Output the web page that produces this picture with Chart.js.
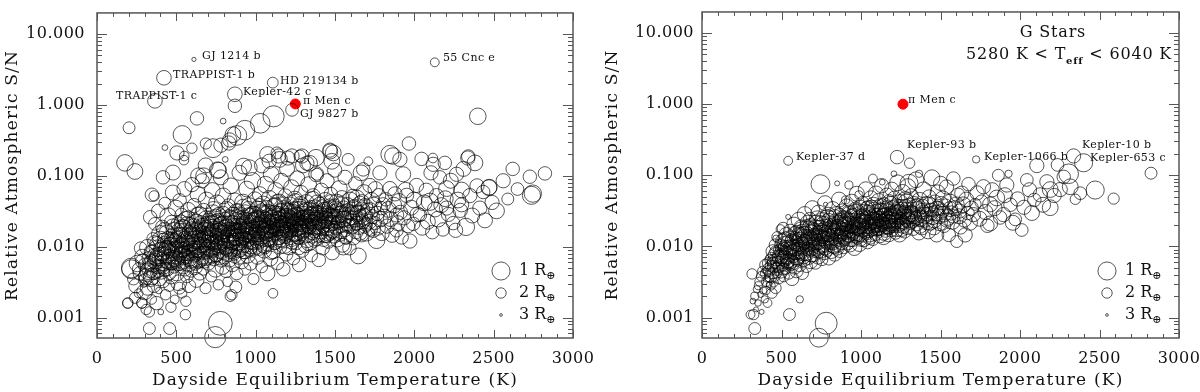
<!DOCTYPE html>
<html>
<head>
<meta charset="utf-8">
<script src="https://cdn.jsdelivr.net/npm/chart.js@4.4.1/dist/chart.umd.min.js"></script>
<style>
  body { margin: 0; background: #fff; width: 1200px; height: 392px; overflow: hidden; display: flex; }
  canvas { display: block; }
</style>
</head>
<body>
<canvas id="left" width="600" height="392"></canvas>
<canvas id="right" width="600" height="392"></canvas>
<script>
// --- DATA: [dayside Teq (K), relative atmospheric S/N, planet radius (R_earth)] ---
const xTicks = [0, 500, 1000, 1500, 2000, 2500, 3000];
const yTicks = [0.001, 0.01, 0.1, 1, 10];
const legendRadii = [1, 2, 3];

// all stars (left panel)
const leftPlanets = [
  // labelled / high S/N planets
  [611, 4.38, 2.8], [422, 2.41, 1.45], [365, 1.14, 1.45], [1108, 2.06, 1.95], [869, 1.41, 1.45],
  [869, 0.97, 1.6], [1229, 0.85, 1.7], [2129, 3.98, 2.2], [2400, 0.69, 1.2],
  // upper outliers
  [176, 0.152, 1.2], [202, 0.475, 1.8], [239, 0.115, 1.3], [346, 0.054, 1.6], [416, 0.095, 1.6],
  [428, 0.25, 2.6], [479, 0.111, 1.4], [504, 0.21, 1.5], [537, 0.38, 1.0], [548, 0.166, 2.1],
  [550, 0.19, 2.1], [598, 0.245, 2.0], [630, 0.645, 1.6], [672, 0.1, 1.3], [686, 0.285, 1.9],
  [731, 0.245, 0.9], [766, 0.12, 1.3], [781, 0.27, 1.5], [795, 0.59, 2.6], [808, 0.17, 2.6],
  [830, 0.29, 1.5], [837, 0.32, 1.5], [857, 0.38, 1.3], [882, 0.37, 0.8], [924, 0.137, 1.3],
  [932, 0.44, 0.8], [1029, 0.55, 0.8], [1113, 0.69, 0.6], [1075, 0.2, 1.3], [1134, 0.21, 1.8],
  [1145, 0.19, 1.5], [1203, 0.178, 1.5], [1229, 0.19, 1.5], [1279, 0.19, 1.8], [1292, 0.19, 1.5],
  [1323, 0.15, 1.5], [1386, 0.105, 1.8], [1468, 0.23, 1.5], [1489, 0.21, 1.3], [2337, 0.178, 1.5],
  [2117, 0.178, 2.1], [2747, 0.056, 1.1], [2470, 0.068, 1.3],
  // lower outliers
  [193, 0.0016, 2.0], [216, 0.005, 0.8], [283, 0.0016, 2.0], [330, 0.0012, 2.0], [330, 0.0007, 1.8],
  [458, 0.0007, 1.8], [557, 0.0011, 2.0], [777, 0.00083, 0.25], [745, 0.00053, 0.6], [840, 0.002, 2.0],
  [1109, 0.0022, 2.1],
  // main cloud, 180-400 K
  [195, 0.0016, 2.0], [215, 0.0048, 0.9], [230, 0.0035, 1.8], [245, 0.0028, 1.5], [262, 0.0022, 2.2],
  [270, 0.0042, 1.6], [283, 0.0016, 2.0], [290, 0.0062, 1.4], [295, 0.003, 2.4], [240, 0.0019, 1.9],
  [255, 0.0058, 1.2], [275, 0.0095, 1.7], [300, 0.0023, 1.3],
  [310, 0.0013, 2.0], [318, 0.0026, 1.5], [322, 0.0045, 1.2], [338, 0.0035, 1.4], [340, 0.0085, 1.6],
  [345, 0.0018, 2.1], [350, 0.0058, 1.1], [352, 0.013, 1.8], [358, 0.0028, 1.6], [362, 0.0072, 1.3],
  [365, 0.021, 1.7], [370, 0.0042, 2.0], [375, 0.0016, 1.6], [380, 0.0095, 1.2], [383, 0.0052, 1.5],
  [386, 0.032, 1.6], [390, 0.0024, 2.5], [395, 0.0068, 1.4], [398, 0.015, 1.1], [335, 0.026, 1.6],
  [360, 0.052, 2.0], [392, 0.0036, 1.3],
  // 400-600 K
  [402, 0.0012, 2.6], [405, 0.0045, 1.3], [410, 0.0085, 1.0], [412, 0.019, 1.6], [418, 0.0032, 1.8],
  [420, 0.006, 1.2], [425, 0.011, 1.5], [428, 0.041, 1.8], [432, 0.0021, 2.0], [436, 0.0075, 1.1],
  [440, 0.0155, 1.3], [444, 0.0048, 1.6], [448, 0.027, 1.2], [452, 0.0095, 1.4], [455, 0.0028, 1.9],
  [460, 0.0063, 1.0], [464, 0.013, 1.7], [468, 0.0038, 1.4], [470, 0.022, 1.5], [474, 0.0082, 1.3],
  [478, 0.058, 1.4], [480, 0.0115, 1.1], [485, 0.0052, 1.7], [488, 0.017, 1.2], [490, 0.0018, 2.2],
  [493, 0.0072, 1.5], [497, 0.035, 1.3], [500, 0.0098, 1.6], [466, 0.0014, 2.0],
  [503, 0.0042, 1.4], [506, 0.0125, 1.2], [510, 0.0068, 1.7], [512, 0.021, 1.5], [515, 0.0031, 1.3],
  [518, 0.0092, 1.1], [521, 0.045, 1.6], [524, 0.0055, 1.9], [527, 0.0145, 1.4], [530, 0.0078, 1.2],
  [533, 0.028, 1.6], [536, 0.0022, 2.1], [539, 0.0105, 1.5], [542, 0.0062, 1.3], [545, 0.018, 1.1],
  [548, 0.0085, 1.8], [551, 0.065, 1.4], [554, 0.0048, 1.6], [557, 0.0118, 1.3], [560, 0.024, 1.2],
  [563, 0.0072, 1.5], [566, 0.0038, 1.7], [569, 0.0135, 1.1], [572, 0.0095, 1.9], [575, 0.033, 1.4],
  [578, 0.0058, 1.2], [581, 0.016, 1.6], [587, 0.0082, 1.3], [590, 0.0205, 1.5], [593, 0.0045, 1.8],
  [596, 0.0112, 1.2], [599, 0.075, 1.5], [560, 0.0017, 2.0], [520, 0.0026, 1.8], [580, 0.0028, 1.6],
  // 600-800 K
  [603, 0.0065, 1.4], [606, 0.0155, 1.2], [609, 0.0098, 1.7], [612, 0.038, 1.5], [615, 0.0052, 1.3],
  [618, 0.0125, 1.1], [621, 0.0235, 1.6], [624, 0.0075, 1.9], [627, 0.0034, 1.4], [630, 0.0172, 1.2],
  [633, 0.0088, 1.6], [636, 0.055, 1.3], [639, 0.0062, 1.5], [642, 0.0112, 1.8], [645, 0.028, 1.2],
  [648, 0.0042, 1.6], [651, 0.0145, 1.4], [654, 0.0092, 1.1], [657, 0.0195, 1.7], [660, 0.0071, 1.3],
  [663, 0.085, 1.5], [666, 0.0125, 1.2], [669, 0.0048, 1.8], [672, 0.032, 1.4], [675, 0.0105, 1.6],
  [678, 0.0165, 1.1], [681, 0.0068, 1.5], [684, 0.0026, 1.9], [687, 0.0135, 1.3], [690, 0.045, 1.2],
  [693, 0.0082, 1.7], [696, 0.021, 1.4], [699, 0.0115, 1.5], [640, 0.1, 1.3], [685, 0.14, 1.4],
  [702, 0.0058, 1.6], [705, 0.0145, 1.3], [708, 0.0095, 1.1], [711, 0.026, 1.7], [714, 0.0072, 1.4],
  [717, 0.0185, 1.2], [720, 0.0038, 1.9], [723, 0.0125, 1.5], [726, 0.062, 1.3], [729, 0.0088, 1.6],
  [732, 0.0155, 1.1], [735, 0.034, 1.4], [738, 0.0065, 1.8], [741, 0.0112, 1.2], [744, 0.0225, 1.5],
  [747, 0.0048, 1.3], [750, 0.0135, 1.7], [753, 0.0078, 1.4], [756, 0.041, 1.2], [759, 0.0172, 1.6],
  [762, 0.0098, 1.3], [765, 0.0029, 2.0], [768, 0.0285, 1.5], [771, 0.0118, 1.1], [774, 0.0068, 1.7],
  [777, 0.0155, 1.3], [780, 0.095, 1.4], [783, 0.0085, 1.5], [786, 0.0205, 1.2], [789, 0.0135, 1.6],
  [792, 0.0052, 1.4], [795, 0.052, 1.3], [798, 0.0108, 1.8], [760, 0.12, 1.2],
  // 800-1000 K
  [802, 0.0165, 1.4], [805, 0.0075, 1.2], [808, 0.0245, 1.6], [811, 0.0122, 1.3], [814, 0.0045, 1.7],
  [817, 0.0185, 1.1], [820, 0.0092, 1.5], [823, 0.0032, 2.1], [826, 0.0145, 1.3], [829, 0.038, 1.6],
  [832, 0.0105, 1.2], [835, 0.0065, 1.5], [838, 0.0215, 1.4], [841, 0.0128, 1.1], [844, 0.072, 1.3],
  [847, 0.0088, 1.7], [850, 0.0175, 1.4], [853, 0.0055, 1.6], [856, 0.0275, 1.2], [859, 0.0115, 1.5],
  [862, 0.0155, 1.3], [865, 0.0078, 1.8], [868, 0.045, 1.4], [871, 0.0135, 1.2], [874, 0.0098, 1.6],
  [877, 0.0235, 1.3], [880, 0.0042, 1.7], [883, 0.0165, 1.5], [886, 0.0118, 1.1], [889, 0.0325, 1.6],
  [892, 0.0072, 1.4], [895, 0.0195, 1.3], [898, 0.11, 1.4], [850, 0.0021, 2.0], [875, 0.0027, 1.8],
  [902, 0.0145, 1.5], [905, 0.0095, 1.2], [908, 0.0255, 1.6], [911, 0.0062, 1.4], [914, 0.0175, 1.3],
  [917, 0.0118, 1.7], [920, 0.042, 1.2], [923, 0.0085, 1.5], [926, 0.0205, 1.3], [929, 0.0135, 1.6],
  [932, 0.0048, 1.8], [935, 0.0305, 1.4], [938, 0.0155, 1.1], [941, 0.0105, 1.5], [944, 0.065, 1.3],
  [947, 0.0225, 1.6], [950, 0.0075, 1.4], [953, 0.0165, 1.2], [956, 0.0125, 1.7], [959, 0.038, 1.3],
  [962, 0.0092, 1.5], [965, 0.0195, 1.2], [968, 0.0058, 1.6], [971, 0.0275, 1.4], [974, 0.0145, 1.3],
  [977, 0.0112, 1.7], [980, 0.085, 1.2], [983, 0.0185, 1.5], [986, 0.0035, 1.9], [989, 0.0235, 1.3],
  [992, 0.0132, 1.6], [995, 0.0465, 1.4], [998, 0.0102, 1.2], [960, 0.13, 1.3],
  // 1000-1200 K
  [1002, 0.0165, 1.5], [1005, 0.0245, 1.3], [1008, 0.0118, 1.6], [1011, 0.0072, 1.4], [1014, 0.0335, 1.2],
  [1017, 0.0155, 1.7], [1020, 0.0205, 1.3], [1023, 0.0095, 1.5], [1026, 0.055, 1.4], [1029, 0.0135, 1.2],
  [1032, 0.0265, 1.6], [1035, 0.0185, 1.3], [1038, 0.0052, 1.8], [1041, 0.0225, 1.4], [1044, 0.0125, 1.5],
  [1047, 0.0395, 1.2], [1050, 0.0155, 1.6], [1053, 0.0088, 1.4], [1056, 0.0285, 1.3], [1059, 0.0195, 1.7],
  [1062, 0.075, 1.2], [1065, 0.0145, 1.5], [1068, 0.0238, 1.3], [1071, 0.0108, 1.6], [1074, 0.0042, 1.4],
  [1077, 0.0315, 1.5], [1080, 0.0175, 1.2], [1083, 0.0128, 1.7], [1086, 0.048, 1.3], [1089, 0.0215, 1.5],
  [1092, 0.0068, 1.4], [1095, 0.0165, 1.6], [1098, 0.105, 1.3], [1040, 0.14, 1.4], [1085, 0.16, 1.5],
  [1102, 0.0255, 1.4], [1105, 0.0145, 1.6], [1108, 0.0195, 1.3], [1111, 0.0085, 1.5], [1114, 0.0365, 1.2],
  [1117, 0.0175, 1.7], [1120, 0.0225, 1.4], [1123, 0.0115, 1.5], [1126, 0.062, 1.3], [1129, 0.0155, 1.6],
  [1132, 0.0285, 1.2], [1135, 0.0205, 1.5], [1138, 0.0058, 1.7], [1141, 0.0245, 1.3], [1144, 0.0135, 1.5],
  [1147, 0.0435, 1.4], [1150, 0.0185, 1.2], [1153, 0.0098, 1.6], [1156, 0.0315, 1.3], [1159, 0.0215, 1.5],
  [1162, 0.085, 1.4], [1165, 0.0165, 1.2], [1168, 0.0268, 1.6], [1171, 0.0125, 1.4], [1174, 0.0048, 1.6],
  [1177, 0.0345, 1.3], [1180, 0.0195, 1.5], [1183, 0.0145, 1.2], [1186, 0.052, 1.5], [1189, 0.0235, 1.4],
  [1192, 0.0078, 1.6], [1195, 0.0175, 1.3], [1198, 0.125, 1.4], [1150, 0.17, 1.3],
  // 1200-1400 K
  [1202, 0.0275, 1.5], [1205, 0.0165, 1.3], [1208, 0.0215, 1.6], [1211, 0.0098, 1.4], [1214, 0.0385, 1.2],
  [1217, 0.0195, 1.7], [1220, 0.0245, 1.4], [1223, 0.0135, 1.5], [1226, 0.068, 1.3], [1229, 0.0175, 1.6],
  [1232, 0.0305, 1.2], [1235, 0.0225, 1.5], [1238, 0.0068, 1.7], [1241, 0.0265, 1.3], [1244, 0.0148, 1.5],
  [1247, 0.0475, 1.4], [1250, 0.0205, 1.2], [1253, 0.0112, 1.6], [1256, 0.0335, 1.3], [1259, 0.0235, 1.5],
  [1262, 0.092, 1.4], [1265, 0.0185, 1.2], [1268, 0.0285, 1.6], [1271, 0.0138, 1.4], [1274, 0.0055, 1.6],
  [1277, 0.0365, 1.3], [1280, 0.0215, 1.5], [1283, 0.0158, 1.2], [1286, 0.058, 1.5], [1289, 0.0255, 1.4],
  [1292, 0.0088, 1.6], [1295, 0.0195, 1.3], [1298, 0.14, 1.4],
  [1302, 0.0295, 1.5], [1306, 0.0178, 1.3], [1310, 0.0235, 1.6], [1314, 0.0105, 1.4], [1318, 0.0415, 1.2],
  [1322, 0.0205, 1.7], [1326, 0.0265, 1.4], [1330, 0.0145, 1.5], [1334, 0.075, 1.3], [1338, 0.0188, 1.6],
  [1342, 0.0325, 1.2], [1346, 0.0245, 1.5], [1350, 0.0075, 1.7], [1354, 0.0285, 1.3], [1358, 0.0158, 1.5],
  [1362, 0.0515, 1.4], [1366, 0.0215, 1.2], [1370, 0.0122, 1.6], [1374, 0.0355, 1.3], [1378, 0.0255, 1.5],
  [1382, 0.105, 1.4], [1386, 0.0198, 1.2], [1390, 0.0305, 1.6], [1394, 0.0148, 1.4], [1398, 0.0065, 1.6],
  [1340, 0.15, 1.3], [1380, 0.18, 1.2],
  // 1400-1600 K
  [1402, 0.0385, 1.3], [1406, 0.0225, 1.5], [1410, 0.0168, 1.2], [1414, 0.0625, 1.5], [1418, 0.0275, 1.4],
  [1422, 0.0095, 1.6], [1426, 0.0205, 1.3], [1430, 0.0335, 1.5], [1434, 0.0145, 1.4], [1438, 0.0445, 1.2],
  [1442, 0.0255, 1.6], [1446, 0.0185, 1.3], [1450, 0.085, 1.5], [1454, 0.0295, 1.4], [1458, 0.0118, 1.6],
  [1462, 0.0235, 1.3], [1466, 0.0375, 1.5], [1470, 0.0165, 1.2], [1474, 0.055, 1.6], [1478, 0.0265, 1.3],
  [1482, 0.0082, 1.5], [1486, 0.0215, 1.4], [1490, 0.0315, 1.6], [1494, 0.0145, 1.3], [1498, 0.12, 1.5],
  [1470, 0.22, 1.4], [1480, 0.16, 1.3],
  [1503, 0.0265, 1.4], [1507, 0.0185, 1.6], [1511, 0.0425, 1.3], [1515, 0.0125, 1.5], [1519, 0.0325, 1.4],
  [1523, 0.0225, 1.6], [1527, 0.066, 1.3], [1531, 0.015, 1.5], [1535, 0.0285, 1.2], [1539, 0.0195, 1.6],
  [1543, 0.0485, 1.4], [1547, 0.0105, 1.5], [1551, 0.0245, 1.3], [1555, 0.0355, 1.6], [1559, 0.0175, 1.4],
  [1563, 0.095, 1.5], [1567, 0.0275, 1.3], [1571, 0.0135, 1.6], [1575, 0.0215, 1.4], [1579, 0.039, 1.5],
  [1583, 0.17, 1.8], [1587, 0.0255, 1.3], [1591, 0.0095, 1.6], [1595, 0.0305, 1.4], [1599, 0.023, 1.5],
  [1552, 0.01, 1.2],
  // 1600-2000 K
  [1604, 0.0295, 1.5], [1608, 0.0195, 1.3], [1612, 0.052, 1.6], [1616, 0.0135, 1.4], [1620, 0.0355, 1.5],
  [1624, 0.0245, 1.3], [1628, 0.078, 1.6], [1632, 0.0165, 1.4], [1636, 0.048, 1.2], [1640, 0.0215, 1.5],
  [1644, 0.0305, 1.4], [1647, 0.0074, 1.3], [1652, 0.0185, 1.6], [1656, 0.0405, 1.4], [1660, 0.0265, 1.5],
  [1664, 0.11, 1.3], [1668, 0.0145, 1.6], [1672, 0.0335, 1.4], [1676, 0.0225, 1.5], [1678, 0.123, 1.6],
  [1682, 0.058, 1.3], [1686, 0.0195, 1.5], [1690, 0.0375, 1.4], [1694, 0.0285, 1.6], [1698, 0.0155, 1.3],
  [1705, 0.0325, 1.5], [1710, 0.16, 2.2], [1715, 0.0225, 1.4], [1720, 0.032, 1.2], [1720, 0.073, 1.5],
  [1725, 0.0175, 1.6], [1730, 0.0455, 1.4], [1735, 0.0265, 1.5], [1741, 0.017, 1.5], [1745, 0.0385, 1.3],
  [1750, 0.0215, 1.6], [1755, 0.065, 1.4], [1762, 0.0123, 1.2], [1765, 0.0295, 1.5], [1770, 0.0185, 1.4],
  [1775, 0.0525, 1.5], [1783, 0.11, 1.5], [1785, 0.0245, 1.3], [1790, 0.035, 1.6], [1795, 0.0155, 1.4],
  [1804, 0.039, 1.5], [1812, 0.0265, 1.4], [1820, 0.0465, 1.6], [1828, 0.0195, 1.5], [1836, 0.0335, 1.3],
  [1846, 0.2, 1.0], [1846, 0.066, 1.5], [1852, 0.0245, 1.4], [1860, 0.0145, 1.5], [1865, 0.19, 1.2],
  [1870, 0.0385, 1.3], [1878, 0.0555, 1.5], [1888, 0.028, 1.5], [1888, 0.017, 1.6], [1895, 0.0215, 1.4],
  [1903, 0.0435, 1.3], [1909, 0.17, 1.5], [1912, 0.0305, 1.5], [1920, 0.0135, 1.6], [1930, 0.105, 1.4],
  [1935, 0.0255, 1.5], [1945, 0.0625, 1.3], [1951, 0.053, 1.5], [1960, 0.0195, 1.6], [1966, 0.285, 1.6],
  [1972, 0.012, 1.5], [1980, 0.0355, 1.4], [1993, 0.021, 1.6], [1998, 0.0455, 1.3],
  // 2000 K and hotter
  [2014, 0.073, 1.5], [2020, 0.0285, 1.4], [2035, 0.028, 1.6], [2046, 0.173, 1.6], [2050, 0.0185, 1.4],
  [2062, 0.0415, 1.3], [2075, 0.0625, 1.5], [2085, 0.0225, 1.4], [2098, 0.043, 1.1], [2105, 0.11, 1.5],
  [2113, 0.016, 1.6], [2119, 0.145, 1.5], [2130, 0.0335, 1.4], [2140, 0.0525, 1.5], [2150, 0.0245, 1.3],
  [2161, 0.095, 1.6], [2170, 0.0385, 1.4], [2180, 0.0175, 1.6], [2192, 0.152, 1.6], [2195, 0.0475, 1.3],
  [2203, 0.066, 1.3], [2203, 0.035, 1.5], [2215, 0.0285, 1.5], [2230, 0.085, 1.4], [2245, 0.0215, 1.6],
  [2260, 0.017, 1.5], [2266, 0.105, 1.5], [2275, 0.0455, 1.3], [2290, 0.0325, 1.5], [2298, 0.063, 1.3],
  [2298, 0.039, 1.5], [2310, 0.125, 1.4], [2325, 0.019, 1.1], [2340, 0.187, 1.6], [2350, 0.0525, 1.5],
  [2365, 0.0275, 1.4], [2382, 0.152, 1.3], [2395, 0.072, 1.5], [2413, 0.035, 1.5], [2434, 0.059, 1.6],
  [2445, 0.0235, 1.4], [2472, 0.069, 1.3], [2490, 0.042, 1.5], [2518, 0.032, 1.3],
  [2560, 0.085, 1.5], [2589, 0.047, 1.8], [2620, 0.125, 1.6], [2650, 0.065, 1.7], [2728, 0.097, 1.6],
  [2738, 0.053, 1.0], [2823, 0.108, 1.6]
];

// the densest part of the left cloud (drawn in the same series)
const leftCore = [
  [305, 0.0055, 1.5], [312, 0.0038, 1.3], [326, 0.0068, 1.6], [334, 0.0048, 1.2], [348, 0.0082, 1.4],
  [356, 0.0042, 1.7], [368, 0.0062, 1.3], [377, 0.011, 1.5], [388, 0.0075, 1.2], [396, 0.0052, 1.6],
  [404, 0.0092, 1.4], [414, 0.0065, 1.3], [422, 0.0125, 1.6], [430, 0.0048, 1.5], [438, 0.0088, 1.2],
  [446, 0.0135, 1.7], [454, 0.0072, 1.4], [462, 0.0105, 1.3], [472, 0.0058, 1.6], [482, 0.0145, 1.4],
  [492, 0.0095, 1.5], [499, 0.0065, 1.2], [508, 0.0115, 1.6], [516, 0.0165, 1.3], [523, 0.0078, 1.5],
  [531, 0.0105, 1.4], [538, 0.0185, 1.2], [546, 0.0068, 1.7], [553, 0.0128, 1.4], [561, 0.0095, 1.5],
  [568, 0.0205, 1.3], [576, 0.0085, 1.6], [583, 0.0138, 1.2], [591, 0.0062, 1.5], [598, 0.0175, 1.4],
  [606, 0.0108, 1.6], [613, 0.0078, 1.3], [621, 0.0148, 1.5], [628, 0.0225, 1.4], [636, 0.0092, 1.2],
  [643, 0.0168, 1.7], [651, 0.0065, 1.4], [658, 0.0125, 1.5], [666, 0.0195, 1.3], [673, 0.0082, 1.6],
  [681, 0.0145, 1.4], [688, 0.0245, 1.2], [696, 0.0098, 1.5], [704, 0.0178, 1.6], [711, 0.0125, 1.3],
  [719, 0.0075, 1.5], [726, 0.0215, 1.4], [734, 0.0142, 1.2], [741, 0.0095, 1.7], [749, 0.0265, 1.4],
  [756, 0.0118, 1.5], [764, 0.0165, 1.3], [771, 0.0085, 1.6], [779, 0.0205, 1.4], [786, 0.0135, 1.2],
  [794, 0.0295, 1.5], [803, 0.0105, 1.6], [810, 0.0185, 1.3], [818, 0.0145, 1.5], [825, 0.0078, 1.4],
  [833, 0.0255, 1.2], [840, 0.0165, 1.7], [848, 0.0115, 1.4], [855, 0.0218, 1.5], [863, 0.0095, 1.3],
  [870, 0.0175, 1.6], [878, 0.0315, 1.4], [885, 0.0135, 1.2], [893, 0.0088, 1.5], [902, 0.0195, 1.6],
  [909, 0.0275, 1.3], [917, 0.0155, 1.5], [924, 0.0105, 1.4], [932, 0.0235, 1.2], [939, 0.0185, 1.7],
  [947, 0.0125, 1.4], [954, 0.0345, 1.5], [962, 0.0165, 1.3], [969, 0.0098, 1.6], [977, 0.0215, 1.4],
  [984, 0.0285, 1.2], [992, 0.0145, 1.5], [1001, 0.0195, 1.6], [1008, 0.0255, 1.3], [1016, 0.0135, 1.5],
  [1023, 0.0375, 1.4], [1031, 0.0175, 1.2], [1038, 0.0225, 1.7], [1046, 0.0105, 1.4], [1053, 0.0305, 1.5],
  [1061, 0.0165, 1.3], [1068, 0.0205, 1.6], [1076, 0.0128, 1.4], [1083, 0.0265, 1.2], [1091, 0.0185, 1.5],
  [1098, 0.0082, 1.6], [1106, 0.0225, 1.4], [1113, 0.0295, 1.3], [1121, 0.0155, 1.5], [1128, 0.0195, 1.6],
  [1136, 0.0415, 1.2], [1143, 0.0245, 1.4], [1151, 0.0135, 1.5], [1158, 0.0185, 1.3], [1166, 0.0325, 1.6],
  [1173, 0.0215, 1.4], [1181, 0.0105, 1.2], [1188, 0.0275, 1.5], [1196, 0.0165, 1.7], [1204, 0.0235, 1.4],
  [1211, 0.0315, 1.3], [1219, 0.0175, 1.5], [1226, 0.0125, 1.6], [1234, 0.0265, 1.2], [1241, 0.0205, 1.4],
  [1249, 0.0445, 1.5], [1256, 0.0155, 1.3], [1264, 0.0245, 1.6], [1271, 0.0098, 1.4], [1279, 0.0335, 1.2],
  [1286, 0.0185, 1.5], [1294, 0.0225, 1.7], [1304, 0.0255, 1.4], [1312, 0.0145, 1.3], [1320, 0.0335, 1.5],
  [1328, 0.0195, 1.6], [1336, 0.0115, 1.2], [1344, 0.0285, 1.4], [1352, 0.0225, 1.5], [1360, 0.0465, 1.3],
  [1368, 0.0165, 1.6], [1376, 0.0305, 1.4], [1384, 0.0135, 1.2], [1392, 0.0245, 1.5], [1404, 0.0295, 1.4],
  [1412, 0.0185, 1.3], [1420, 0.0365, 1.5], [1428, 0.0125, 1.6], [1436, 0.0245, 1.2], [1444, 0.0335, 1.4],
  [1452, 0.0205, 1.5], [1460, 0.0155, 1.3], [1468, 0.0285, 1.6], [1476, 0.0425, 1.4], [1484, 0.0175, 1.2],
  [1492, 0.0255, 1.5], [1505, 0.0345, 1.4], [1515, 0.0215, 1.6], [1525, 0.0285, 1.3], [1535, 0.0165, 1.5],
  [1545, 0.0395, 1.4], [1555, 0.0245, 1.2], [1565, 0.0135, 1.6], [1575, 0.0315, 1.4], [1585, 0.0195, 1.5],
  [1595, 0.0455, 1.3], [1610, 0.0255, 1.5], [1622, 0.0365, 1.4], [1634, 0.0215, 1.6], [1646, 0.0295, 1.3],
  [1658, 0.0155, 1.5], [1670, 0.0425, 1.4], [1682, 0.0265, 1.2], [1694, 0.0205, 1.6]
];

// more of the black core of the left cloud
const leftCore2 = [
  [265, 0.0048, 1.6], [285, 0.0072, 1.4], [302, 0.0034, 1.7], [318, 0.0098, 1.3], [332, 0.0058, 1.5],
  [346, 0.0038, 1.2], [361, 0.0115, 1.6], [373, 0.0068, 1.4], [385, 0.0045, 1.7], [399, 0.0128, 1.3],
  [409, 0.0078, 1.5], [417, 0.0052, 1.4], [427, 0.0168, 1.2], [435, 0.0098, 1.6], [443, 0.0062, 1.5],
  [451, 0.0118, 1.3], [459, 0.0042, 1.7], [467, 0.0088, 1.4], [476, 0.0195, 1.5], [486, 0.0068, 1.3],
  [495, 0.0125, 1.6], [505, 0.0085, 1.4], [513, 0.0058, 1.5], [521, 0.0145, 1.3], [529, 0.0225, 1.6],
  [537, 0.0092, 1.4], [544, 0.0052, 1.5], [552, 0.0165, 1.2], [559, 0.0078, 1.7], [567, 0.0115, 1.4],
  [574, 0.0255, 1.5], [582, 0.0068, 1.3], [589, 0.0105, 1.6], [597, 0.0148, 1.4], [604, 0.0088, 1.5],
  [611, 0.0192, 1.3], [619, 0.0058, 1.6], [626, 0.0118, 1.4], [634, 0.0275, 1.2], [641, 0.0135, 1.5],
  [649, 0.0082, 1.7], [656, 0.0215, 1.4], [664, 0.0105, 1.3], [671, 0.0155, 1.5], [679, 0.0062, 1.6],
  [686, 0.0185, 1.4], [694, 0.0128, 1.2], [703, 0.0235, 1.5], [710, 0.0092, 1.6], [718, 0.0158, 1.3],
  [725, 0.0112, 1.5], [733, 0.0305, 1.4], [740, 0.0175, 1.2], [748, 0.0075, 1.6], [755, 0.0145, 1.5],
  [763, 0.0228, 1.3], [770, 0.0105, 1.4], [778, 0.0178, 1.6], [785, 0.0065, 1.5], [793, 0.0152, 1.3],
  [801, 0.0215, 1.4], [809, 0.0095, 1.6], [816, 0.0335, 1.3], [824, 0.0175, 1.5], [831, 0.0122, 1.4],
  [839, 0.0085, 1.6], [846, 0.0248, 1.2], [854, 0.0145, 1.5], [861, 0.0195, 1.4], [869, 0.0072, 1.7],
  [876, 0.0138, 1.3], [884, 0.0265, 1.5], [891, 0.0165, 1.4], [899, 0.0108, 1.6], [906, 0.0225, 1.3],
  [913, 0.0128, 1.5], [921, 0.0365, 1.4], [928, 0.0175, 1.6], [936, 0.0088, 1.2], [943, 0.0205, 1.5],
  [951, 0.0148, 1.4], [958, 0.0275, 1.3], [966, 0.0115, 1.6], [973, 0.0185, 1.5], [981, 0.0235, 1.4],
  [988, 0.0095, 1.3], [996, 0.0165, 1.6], [1004, 0.0285, 1.4], [1012, 0.0148, 1.5], [1019, 0.0205, 1.3],
  [1027, 0.0118, 1.6], [1034, 0.0315, 1.4], [1042, 0.0185, 1.5], [1049, 0.0245, 1.2], [1057, 0.0098, 1.6],
  [1064, 0.0175, 1.4], [1072, 0.0355, 1.5], [1079, 0.0155, 1.3], [1087, 0.0225, 1.6], [1094, 0.0125, 1.4],
  [1103, 0.0195, 1.5], [1110, 0.0265, 1.3], [1118, 0.0112, 1.6], [1125, 0.0385, 1.4], [1133, 0.0175, 1.5],
  [1140, 0.0215, 1.2], [1148, 0.0295, 1.6], [1155, 0.0125, 1.4], [1163, 0.0245, 1.5], [1170, 0.0185, 1.3],
  [1178, 0.0405, 1.6], [1185, 0.0155, 1.4], [1193, 0.0205, 1.5], [1201, 0.0325, 1.4], [1209, 0.0145, 1.6],
  [1216, 0.0255, 1.3], [1224, 0.0195, 1.5], [1231, 0.0118, 1.4], [1239, 0.0345, 1.6], [1246, 0.0225, 1.3],
  [1254, 0.0175, 1.5], [1261, 0.0285, 1.4], [1269, 0.0135, 1.6], [1276, 0.0205, 1.5], [1284, 0.0395, 1.3],
  [1291, 0.0255, 1.4], [1300, 0.0165, 1.6], [1308, 0.0315, 1.4], [1316, 0.0225, 1.5], [1324, 0.0125, 1.3],
  [1332, 0.0265, 1.6], [1340, 0.0195, 1.4], [1348, 0.0355, 1.5], [1356, 0.0145, 1.3], [1364, 0.0245, 1.6],
  [1372, 0.0185, 1.4], [1380, 0.0285, 1.5], [1388, 0.0415, 1.3], [1396, 0.0215, 1.6], [1408, 0.0255, 1.4],
  [1418, 0.0185, 1.5], [1428, 0.0305, 1.3], [1438, 0.0225, 1.6], [1448, 0.0145, 1.4], [1458, 0.0345, 1.5],
  [1468, 0.0205, 1.3], [1478, 0.0275, 1.6], [1488, 0.0165, 1.4], [1498, 0.0375, 1.5]
];

// G stars (right panel)
const rightPlanets = [
  // labelled / outliers
  [542, 0.16, 2.2], [1227, 0.18, 1.6], [1724, 0.167, 2.4], [745, 0.075, 0.9], [850, 0.077, 2.7],
  [924, 0.073, 2.3], [777, 0.039, 2.8], [542, 0.026, 2.7], [510, 0.018, 1.8], [466, 0.013, 2.5],
  [315, 0.0041, 2.0], [388, 0.0045, 2.8], [332, 0.002, 2.3], [325, 0.0011, 2.0], [332, 0.0007, 1.8],
  [550, 0.0011, 1.8], [781, 0.00083, 0.5], [735, 0.00052, 0.9], [615, 0.0018, 2.4], [487, 0.0093, 2.3],
  [435, 0.0053, 1.8], [672, 0.018, 1.5], [1306, 0.148, 2.0], [1365, 0.105, 2.4], [1207, 0.105, 2.6],
  [1075, 0.09, 2.2], [1134, 0.08, 2.6], [1302, 0.077, 1.0], [1501, 0.077, 1.5], [903, 0.045, 2.3],
  [987, 0.053, 2.3],
  // 300-500 K
  [305, 0.0011, 2.2], [320, 0.0017, 2.6], [340, 0.0013, 2.7], [345, 0.0025, 2.4], [352, 0.0016, 2.5],
  [360, 0.0032, 2.2], [368, 0.0021, 2.6], [375, 0.0012, 2.7], [380, 0.0045, 2.1], [395, 0.0018, 2.4],
  [398, 0.0055, 1.9], [403, 0.0024, 2.3], [408, 0.0035, 2.5], [412, 0.0016, 2.2], [418, 0.0048, 1.8],
  [422, 0.0029, 2.6], [428, 0.0065, 2.0], [432, 0.0038, 1.7], [440, 0.0022, 2.0], [445, 0.0085, 1.6],
  [448, 0.0042, 1.9], [452, 0.0031, 2.2], [456, 0.0062, 1.5], [460, 0.0105, 1.8], [463, 0.0026, 1.9],
  [466, 0.0075, 1.3], [470, 0.0048, 1.7], [474, 0.0135, 1.9], [478, 0.0058, 1.5], [482, 0.0036, 1.8],
  [490, 0.0068, 1.4], [494, 0.0175, 2.2], [497, 0.0044, 1.7],
  // 500-700 K
  [502, 0.0082, 1.5], [506, 0.0055, 1.7], [510, 0.0118, 1.4], [514, 0.0038, 1.9], [518, 0.0068, 1.3],
  [522, 0.0098, 1.6], [526, 0.0048, 2.0], [530, 0.0145, 1.4], [534, 0.0075, 1.2], [538, 0.0058, 1.7],
  [542, 0.0115, 1.5], [546, 0.0042, 1.8], [550, 0.0088, 1.3], [554, 0.0165, 1.6], [558, 0.0062, 1.4],
  [562, 0.0125, 1.8], [566, 0.0035, 1.6], [570, 0.0095, 1.3], [574, 0.0072, 1.7], [578, 0.0205, 1.5],
  [582, 0.0052, 1.4], [586, 0.0135, 1.9], [590, 0.0085, 1.2], [594, 0.0045, 1.6], [598, 0.0155, 1.4],
  [602, 0.0068, 1.5], [606, 0.0105, 1.7], [610, 0.0235, 1.3], [614, 0.0055, 1.6], [618, 0.0125, 1.4],
  [622, 0.0078, 1.8], [626, 0.0172, 1.3], [630, 0.0042, 1.7], [634, 0.0098, 1.5], [638, 0.0145, 1.2],
  [642, 0.0065, 1.6], [646, 0.0285, 1.4], [650, 0.0115, 1.5], [654, 0.0082, 1.3], [658, 0.0052, 1.8],
  [662, 0.0188, 1.4], [666, 0.0128, 1.6], [670, 0.0072, 1.3], [674, 0.0105, 1.5], [678, 0.0245, 1.7],
  [682, 0.0062, 1.4], [686, 0.0155, 1.3], [690, 0.0092, 1.6], [694, 0.0345, 1.4], [698, 0.0118, 1.5],
  // 700-900 K
  [702, 0.0075, 1.6], [706, 0.0165, 1.3], [710, 0.0128, 1.5], [714, 0.0058, 1.8], [718, 0.0215, 1.4],
  [722, 0.0095, 1.2], [726, 0.0145, 1.6], [730, 0.0072, 1.4], [734, 0.0295, 1.3], [738, 0.0112, 1.7],
  [742, 0.0185, 1.5], [746, 0.0088, 1.3], [750, 0.0135, 1.5], [754, 0.0065, 1.8], [758, 0.0235, 1.4],
  [762, 0.0105, 1.6], [766, 0.0155, 1.3], [770, 0.0082, 1.5], [774, 0.0405, 1.4], [778, 0.0125, 1.2],
  [782, 0.0195, 1.7], [786, 0.0092, 1.4], [790, 0.0145, 1.5], [794, 0.0275, 1.3], [798, 0.0068, 1.6],
  [802, 0.0175, 1.4], [806, 0.0112, 1.6], [810, 0.0245, 1.3], [814, 0.0085, 1.5], [818, 0.0148, 1.7],
  [822, 0.0335, 1.4], [826, 0.0105, 1.2], [830, 0.0205, 1.6], [834, 0.0078, 1.5], [838, 0.0158, 1.3],
  [842, 0.0125, 1.7], [846, 0.0285, 1.4], [850, 0.0095, 1.5], [854, 0.0185, 1.3], [858, 0.0135, 1.6],
  [862, 0.0455, 1.4], [866, 0.0088, 1.5], [870, 0.0225, 1.3], [874, 0.0145, 1.7], [878, 0.0115, 1.4],
  [882, 0.0315, 1.5], [886, 0.0165, 1.3], [890, 0.0098, 1.6], [894, 0.0205, 1.4], [898, 0.0128, 1.5],
  // 900-1100 K
  [902, 0.0245, 1.3], [906, 0.0155, 1.6], [910, 0.0365, 1.4], [914, 0.0112, 1.5], [918, 0.0195, 1.3],
  [922, 0.0138, 1.7], [926, 0.0285, 1.4], [930, 0.0105, 1.5], [934, 0.0225, 1.3], [938, 0.0165, 1.6],
  [942, 0.0425, 1.4], [946, 0.0125, 1.5], [950, 0.0265, 1.3], [954, 0.0185, 1.7], [958, 0.0095, 1.4],
  [962, 0.0315, 1.5], [966, 0.0155, 1.3], [970, 0.0215, 1.6], [974, 0.055, 1.4], [978, 0.0135, 1.5],
  [982, 0.0245, 1.3], [986, 0.0175, 1.6], [990, 0.0108, 1.4], [994, 0.0355, 1.5], [998, 0.0195, 1.3],
  [1002, 0.0265, 1.5], [1006, 0.0148, 1.3], [1010, 0.0405, 1.6], [1014, 0.0215, 1.4], [1018, 0.0125, 1.5],
  [1022, 0.0305, 1.3], [1026, 0.0185, 1.7], [1030, 0.0635, 1.4], [1034, 0.0155, 1.5], [1038, 0.0245, 1.3],
  [1042, 0.0115, 1.6], [1046, 0.0345, 1.4], [1050, 0.0205, 1.5], [1054, 0.0138, 1.3], [1058, 0.0285, 1.7],
  [1062, 0.0475, 1.4], [1066, 0.0175, 1.5], [1070, 0.0235, 1.3], [1074, 0.0128, 1.6], [1078, 0.0385, 1.4],
  [1082, 0.0195, 1.5], [1086, 0.0265, 1.3], [1090, 0.0148, 1.7], [1094, 0.0555, 1.4], [1098, 0.0225, 1.5],
  // 1100-1300 K
  [1102, 0.0305, 1.3], [1106, 0.0175, 1.6], [1110, 0.0435, 1.4], [1114, 0.0245, 1.5], [1118, 0.0145, 1.3],
  [1122, 0.0335, 1.7], [1126, 0.0205, 1.4], [1130, 0.0715, 1.5], [1134, 0.0185, 1.3], [1138, 0.0275, 1.6],
  [1142, 0.0135, 1.4], [1146, 0.0385, 1.5], [1150, 0.0225, 1.3], [1154, 0.0165, 1.7], [1158, 0.0315, 1.4],
  [1162, 0.0525, 1.5], [1166, 0.0195, 1.3], [1170, 0.0255, 1.6], [1174, 0.0148, 1.4], [1178, 0.0425, 1.5],
  [1182, 0.0215, 1.3], [1186, 0.0295, 1.7], [1190, 0.0175, 1.4], [1194, 0.0635, 1.5], [1198, 0.0235, 1.3],
  [1202, 0.0345, 1.4], [1206, 0.0195, 1.6], [1210, 0.0475, 1.5], [1214, 0.0265, 1.3], [1218, 0.0155, 1.7],
  [1222, 0.0365, 1.4], [1226, 0.0225, 1.5], [1230, 0.0785, 1.3], [1234, 0.0195, 1.6], [1238, 0.0305, 1.4],
  [1242, 0.0145, 1.5], [1246, 0.0415, 1.3], [1250, 0.0245, 1.7], [1254, 0.0175, 1.4], [1258, 0.0335, 1.5],
  [1262, 0.0575, 1.3], [1266, 0.0215, 1.6], [1270, 0.0285, 1.4], [1274, 0.0165, 1.5], [1278, 0.0455, 1.3],
  [1282, 0.0235, 1.7], [1286, 0.0325, 1.4], [1290, 0.0185, 1.5], [1294, 0.0695, 1.3], [1298, 0.0255, 1.6],
  // 1300-1700 K
  [1304, 0.0375, 1.4], [1310, 0.0215, 1.6], [1316, 0.0515, 1.5], [1322, 0.0285, 1.3], [1328, 0.0175, 1.7],
  [1334, 0.0395, 1.4], [1340, 0.0245, 1.5], [1346, 0.0865, 1.3], [1352, 0.0205, 1.6], [1358, 0.0335, 1.4],
  [1364, 0.0155, 1.5], [1370, 0.0445, 1.3], [1376, 0.0265, 1.7], [1382, 0.0185, 1.4], [1388, 0.0365, 1.5],
  [1394, 0.0625, 1.3], [1404, 0.0235, 1.5], [1410, 0.0395, 1.4], [1416, 0.0285, 1.6], [1422, 0.0165, 1.3],
  [1428, 0.0495, 1.5], [1434, 0.0215, 1.4], [1440, 0.0325, 1.6], [1446, 0.0925, 1.3], [1452, 0.0255, 1.5],
  [1458, 0.0185, 1.4], [1464, 0.0425, 1.6], [1470, 0.0295, 1.3], [1476, 0.0145, 1.5], [1482, 0.0575, 1.4],
  [1488, 0.0345, 1.6], [1494, 0.0215, 1.3], [1508, 0.0315, 1.5], [1515, 0.0465, 1.3], [1522, 0.0195, 1.6],
  [1530, 0.0365, 1.4], [1538, 0.0685, 1.5], [1545, 0.0255, 1.3], [1552, 0.0145, 1.6], [1560, 0.0425, 1.4],
  [1568, 0.0295, 1.5], [1575, 0.0225, 1.3], [1581, 0.09, 1.6], [1590, 0.0345, 1.4], [1602, 0.0117, 1.8],
  [1610, 0.0525, 1.5], [1618, 0.0265, 1.4], [1626, 0.0185, 1.6], [1634, 0.056, 1.5], [1642, 0.0385, 1.3],
  [1650, 0.0235, 1.5], [1655, 0.0145, 1.5], [1662, 0.0455, 1.4], [1670, 0.0295, 1.6], [1676, 0.075, 1.6],
  [1685, 0.0215, 1.4], [1694, 0.0345, 1.5],
  // 1700 K and hotter
  [1707, 0.028, 1.5], [1718, 0.039, 1.8], [1730, 0.0565, 1.5], [1745, 0.0245, 1.4], [1758, 0.0425, 1.6],
  [1770, 0.069, 1.5], [1782, 0.0305, 1.4], [1795, 0.0195, 1.6], [1812, 0.039, 1.4], [1812, 0.021, 1.4],
  [1825, 0.0625, 1.5], [1840, 0.0345, 1.4], [1854, 0.048, 1.3], [1864, 0.1, 1.8], [1875, 0.0255, 1.6],
  [1896, 0.028, 1.5], [1905, 0.0525, 1.4], [1917, 0.073, 1.5], [1928, 0.105, 2.4], [1940, 0.0385, 1.6],
  [1955, 0.0215, 1.4], [1970, 0.024, 1.7], [1985, 0.0465, 1.5], [2011, 0.017, 1.7], [2025, 0.0355, 1.5],
  [2043, 0.086, 1.7], [2060, 0.0625, 1.5], [2075, 0.0295, 1.4], [2090, 0.045, 1.6], [2106, 0.137, 1.5],
  [2127, 0.053, 1.5], [2145, 0.0385, 1.4], [2169, 0.081, 1.5], [2190, 0.063, 1.3], [2190, 0.035, 1.3],
  [2215, 0.052, 1.5], [2236, 0.14, 1.7], [2253, 0.063, 1.5], [2275, 0.095, 1.6], [2306, 0.105, 0.8],
  [2316, 0.069, 1.3], [2337, 0.187, 1.5], [2348, 0.046, 2.0], [2379, 0.056, 1.7], [2400, 0.15, 1.0],
  [2473, 0.062, 1.0], [2589, 0.047, 1.9], [2824, 0.107, 1.8]
];

// the densest part of the G-star band
const rightCore = [
  [355, 0.0028, 2.3], [372, 0.0038, 2.1], [385, 0.0024, 2.4], [400, 0.0042, 2.0], [415, 0.0058, 1.9],
  [425, 0.0036, 2.2], [438, 0.0068, 1.8], [450, 0.0052, 1.7], [462, 0.0085, 1.9], [472, 0.0042, 2.1],
  [484, 0.0072, 1.6], [495, 0.0105, 1.8], [505, 0.0062, 1.5], [515, 0.0092, 1.7], [525, 0.0125, 1.4],
  [535, 0.0068, 1.6], [545, 0.0095, 1.3], [555, 0.0055, 1.8], [565, 0.0115, 1.5], [575, 0.0085, 1.4],
  [585, 0.0155, 1.6], [595, 0.0072, 1.3], [605, 0.0125, 1.5], [615, 0.0092, 1.7], [625, 0.0185, 1.4],
  [635, 0.0078, 1.6], [645, 0.0135, 1.3], [655, 0.0105, 1.5], [665, 0.0215, 1.4], [675, 0.0088, 1.6],
  [685, 0.0125, 1.2], [695, 0.0175, 1.5], [705, 0.0105, 1.4], [715, 0.0145, 1.6], [725, 0.0245, 1.3],
  [735, 0.0098, 1.5], [745, 0.0165, 1.4], [755, 0.0125, 1.7], [765, 0.0205, 1.3], [775, 0.0095, 1.5],
  [785, 0.0155, 1.4], [795, 0.0235, 1.6], [805, 0.0135, 1.3], [815, 0.0185, 1.5], [825, 0.0115, 1.4],
  [835, 0.0265, 1.6], [845, 0.0165, 1.3], [855, 0.0105, 1.5], [865, 0.0215, 1.4], [875, 0.0155, 1.7],
  [885, 0.0245, 1.3], [895, 0.0135, 1.5], [905, 0.0205, 1.4], [915, 0.0165, 1.6], [925, 0.0295, 1.3],
  [935, 0.0125, 1.5], [945, 0.0195, 1.4], [955, 0.0235, 1.6], [965, 0.0145, 1.3], [975, 0.0315, 1.5],
  [985, 0.0185, 1.4], [995, 0.0125, 1.6], [1005, 0.0225, 1.3], [1015, 0.0275, 1.5], [1025, 0.0165, 1.4],
  [1035, 0.0345, 1.6], [1045, 0.0195, 1.3], [1055, 0.0145, 1.5], [1065, 0.0255, 1.4], [1075, 0.0215, 1.6],
  [1085, 0.0325, 1.3], [1095, 0.0175, 1.5], [1105, 0.0245, 1.4], [1115, 0.0195, 1.6], [1125, 0.0365, 1.3],
  [1135, 0.0225, 1.5], [1145, 0.0155, 1.4], [1155, 0.0285, 1.6], [1165, 0.0235, 1.3], [1175, 0.0185, 1.5],
  [1185, 0.0395, 1.4], [1195, 0.0265, 1.6], [1205, 0.0215, 1.3], [1215, 0.0305, 1.5], [1225, 0.0175, 1.4],
  [1235, 0.0255, 1.6], [1245, 0.0355, 1.3], [1255, 0.0225, 1.5], [1265, 0.0195, 1.4], [1275, 0.0305, 1.6],
  [1285, 0.0425, 1.3], [1295, 0.0265, 1.5], [1310, 0.0285, 1.4], [1325, 0.0225, 1.6], [1340, 0.0355, 1.3],
  [1355, 0.0255, 1.5], [1370, 0.0195, 1.4], [1385, 0.0325, 1.6], [1400, 0.0275, 1.3], [1415, 0.0215, 1.5],
  [1430, 0.0385, 1.4], [1445, 0.0295, 1.6], [1460, 0.0235, 1.3], [1475, 0.0345, 1.5], [1490, 0.0265, 1.4],
  [1505, 0.0405, 1.6], [1520, 0.0285, 1.3], [1540, 0.0235, 1.5], [1560, 0.0335, 1.4], [1580, 0.0265, 1.6],
  [1600, 0.0385, 1.3], [1620, 0.0315, 1.5]
];

// more of the dark middle of the G-star band
const rightCore2 = [
  [405, 0.0032, 2.1], [420, 0.0045, 1.9], [433, 0.0028, 2.2], [447, 0.0058, 1.8], [458, 0.0038, 2.0],
  [469, 0.0065, 1.7], [480, 0.0052, 1.9], [491, 0.0088, 1.6], [503, 0.0072, 1.5], [511, 0.0048, 1.8],
  [520, 0.0108, 1.4], [528, 0.0082, 1.6], [537, 0.0062, 1.5], [546, 0.0128, 1.3], [553, 0.0075, 1.7],
  [562, 0.0098, 1.4], [571, 0.0058, 1.6], [579, 0.0118, 1.5], [588, 0.0095, 1.3], [597, 0.0065, 1.6],
  [604, 0.0142, 1.4], [612, 0.0085, 1.5], [621, 0.0108, 1.3], [629, 0.0165, 1.6], [637, 0.0072, 1.4],
  [646, 0.0118, 1.5], [654, 0.0148, 1.3], [663, 0.0092, 1.6], [671, 0.0135, 1.4], [680, 0.0195, 1.5],
  [688, 0.0078, 1.3], [697, 0.0108, 1.6], [704, 0.0135, 1.4], [713, 0.0188, 1.5], [721, 0.0115, 1.3],
  [730, 0.0085, 1.6], [738, 0.0155, 1.4], [747, 0.0215, 1.5], [755, 0.0105, 1.3], [764, 0.0135, 1.6],
  [772, 0.0175, 1.4], [781, 0.0115, 1.5], [789, 0.0255, 1.3], [798, 0.0145, 1.6], [806, 0.0195, 1.4],
  [815, 0.0128, 1.5], [823, 0.0165, 1.3], [832, 0.0098, 1.6], [840, 0.0225, 1.4], [849, 0.0145, 1.5],
  [857, 0.0185, 1.3], [866, 0.0275, 1.6], [874, 0.0125, 1.4], [883, 0.0175, 1.5], [891, 0.0215, 1.3],
  [903, 0.0175, 1.6], [912, 0.0235, 1.4], [921, 0.0145, 1.5], [930, 0.0205, 1.3], [939, 0.0265, 1.6],
  [948, 0.0158, 1.4], [957, 0.0195, 1.5], [966, 0.0325, 1.3], [975, 0.0175, 1.6], [984, 0.0225, 1.4],
  [993, 0.0148, 1.5], [1003, 0.0195, 1.3], [1012, 0.0255, 1.6], [1021, 0.0175, 1.4], [1030, 0.0225, 1.5],
  [1039, 0.0295, 1.3], [1048, 0.0165, 1.6], [1057, 0.0215, 1.4], [1066, 0.0355, 1.5], [1075, 0.0185, 1.3],
  [1084, 0.0245, 1.6], [1093, 0.0205, 1.4], [1103, 0.0275, 1.5], [1112, 0.0185, 1.3], [1121, 0.0235, 1.6],
  [1130, 0.0315, 1.4], [1139, 0.0205, 1.5], [1148, 0.0265, 1.3], [1157, 0.0185, 1.6], [1166, 0.0345, 1.4],
  [1175, 0.0225, 1.5], [1184, 0.0265, 1.3], [1193, 0.0195, 1.6], [1205, 0.0285, 1.4], [1220, 0.0235, 1.5],
  [1235, 0.0325, 1.3], [1250, 0.0205, 1.6], [1265, 0.0265, 1.4], [1280, 0.0365, 1.5], [1295, 0.0235, 1.3],
  [1315, 0.0305, 1.6], [1335, 0.0265, 1.4], [1355, 0.0375, 1.5], [1375, 0.0245, 1.3], [1395, 0.0305, 1.6]
];

// pi Men c, drawn as the filled red dot
const piMenLeft = [1250, 1.03];
const piMenRight = [1264, 1.0];

// label texts, anchored at [T, S/N] of their left edge
const leftLabels = [
  ['GJ 1214 b', 662, 4.8], ['TRAPPIST-1 b', 479, 2.65], ['TRAPPIST-1 c', 120, 1.33],
  ['HD 219134 b', 1153, 2.19], ['Kepler-42 c', 920, 1.5], ['\u03c0 Men c', 1298, 1.13],
  ['GJ 9827 b', 1279, 0.73], ['55 Cnc e', 2180, 4.52]
];
const rightLabels = [
  ['Kepler-37 d', 591, 0.178], ['\u03c0 Men c', 1296, 1.13], ['Kepler-93 b', 1289, 0.267],
  ['Kepler-1066 b', 1774, 0.178], ['Kepler-10 b', 2390, 0.267], ['Kepler-653 c', 2441, 0.172]
];

// --- HELPERS ---
const SERIF = '"DejaVu Serif", serif';
const circleColor = 'rgba(0,0,0,0.66)';

// bigger circle = smaller planet, as in the key (1, 2, 3 R_earth)
function radiusPx(rEarth) {
  return Math.max(1, 12.9 - 3.85 * rEarth);
}

function toPoints(list) {
  return list.map(([t, sn, r]) => ({ x: t, y: sn, rad: r }));
}

function textWithSpacing(ctx, spacing) {
  if ('letterSpacing' in ctx) ctx.letterSpacing = spacing;
}

// frame, inward ticks, tick labels, titles, key and planet names
const framePlugin = {
  id: 'frame',
  afterDraw(chart, args, opts) {
    const { ctx, chartArea: a, scales: { x, y } } = chart;
    ctx.save();

    // ticks
    ctx.strokeStyle = '#555';
    ctx.lineWidth = 1;
    ctx.beginPath();
    for (let t = 0; t <= 3000; t += 100) {
      const px = Math.round(x.getPixelForValue(t)) + 0.5;
      const len = t % 500 === 0 ? 8 : 4;
      ctx.moveTo(px, a.bottom); ctx.lineTo(px, a.bottom - len);
      ctx.moveTo(px, a.top); ctx.lineTo(px, a.top + len);
    }
    for (let d = -4; d <= 1; d++) {
      for (let m = 1; m <= 9; m++) {
        const v = m * Math.pow(10, d);
        if (v < y.min || v > y.max) continue;
        const py = Math.round(y.getPixelForValue(v)) + 0.5;
        const len = m === 1 ? 10 : 5;
        ctx.moveTo(a.left, py); ctx.lineTo(a.left + len, py);
        ctx.moveTo(a.right, py); ctx.lineTo(a.right - len, py);
      }
    }
    ctx.stroke();

    ctx.lineWidth = 1.5;
    ctx.strokeRect(a.left, a.top, a.right - a.left, a.bottom - a.top);

    // tick labels
    ctx.fillStyle = '#111';
    ctx.font = '16px ' + SERIF;
    textWithSpacing(ctx, '0.5px');
    ctx.textAlign = 'center';
    ctx.textBaseline = 'middle';
    xTicks.forEach(t => ctx.fillText(String(t), x.getPixelForValue(t), a.bottom + 21));
    ctx.textAlign = 'right';
    yTicks.forEach(v => ctx.fillText(v.toFixed(3), a.left - opts.yLabelGap, y.getPixelForValue(v)));

    // axis titles
    ctx.font = '17px ' + SERIF;
    textWithSpacing(ctx, '1.2px');
    ctx.textAlign = 'center';
    ctx.fillText('Dayside Equilibrium Temperature (K)', (a.left + a.right) / 2, a.bottom + 43);
    ctx.save();
    ctx.translate(opts.yTitleX, (a.top + a.bottom) / 2);
    ctx.rotate(-Math.PI / 2);
    ctx.fillText('Relative Atmospheric S/N', 0, 0);
    ctx.restore();

    // key
    textWithSpacing(ctx, '0px');
    ctx.strokeStyle = circleColor;
    ctx.lineWidth = 1;
    legendRadii.forEach((r, i) => {
      const cx = a.right - 72;
      const cy = a.bottom - 67 + i * 22;
      ctx.beginPath();
      ctx.arc(cx, cy, radiusPx(r), 0, Math.PI * 2);
      ctx.stroke();
      ctx.textAlign = 'left';
      ctx.font = '16px ' + SERIF;
      ctx.fillText(r + ' R', cx + 18, cy);
      const w = ctx.measureText(r + ' R').width;
      ctx.font = '11px ' + SERIF;
      ctx.fillText('\u2295', cx + 18 + w, cy + 5);
    });

    // planet names
    ctx.font = '11px ' + SERIF;
    textWithSpacing(ctx, '0.4px');
    ctx.textAlign = 'left';
    opts.labels.forEach(([name, t, sn]) => {
      ctx.fillText(name, x.getPixelForValue(t), y.getPixelForValue(sn));
    });

    // panel title
    if (opts.title) {
      ctx.font = '16px ' + SERIF;
      textWithSpacing(ctx, '0.8px');
      ctx.textAlign = 'center';
      ctx.fillText('G Stars', a.right - 126, a.top + 21);
      const parts = ['5280 K < T', 'eff', ' < 6040 K'];
      ctx.font = '16px ' + SERIF;
      const w0 = ctx.measureText(parts[0]).width;
      const w2 = ctx.measureText(parts[2]).width;
      ctx.font = 'bold 10px ' + SERIF;
      const w1 = ctx.measureText(parts[1]).width;
      let px = a.right - 7 - (w0 + w1 + w2);
      const py = a.top + 43;
      ctx.textAlign = 'left';
      ctx.font = '16px ' + SERIF;
      ctx.fillText(parts[0], px, py);
      px += w0;
      ctx.font = 'bold 10px ' + SERIF;
      ctx.fillText(parts[1], px, py + 6);
      px += w1;
      ctx.font = '16px ' + SERIF;
      ctx.fillText(parts[2], px, py);
    }
    ctx.restore();
  }
};

function makeChart(canvasId, planets, piMen, labels, pad, extra) {
  return new Chart(document.getElementById(canvasId), {
    type: 'scatter',
    data: {
      datasets: [{
        data: toPoints(planets),
        pointStyle: 'circle',
        pointRadius: c => radiusPx(c.raw.rad),
        backgroundColor: 'rgba(0,0,0,0)',
        borderColor: circleColor,
        borderWidth: 1,
        clip: false
      }, {
        data: [{ x: piMen[0], y: piMen[1] }],
        pointStyle: 'circle',
        pointRadius: 5,
        backgroundColor: '#ff0000',
        borderColor: '#ff0000',
        borderWidth: 1,
        clip: false
      }]
    },
    options: {
      responsive: false,
      devicePixelRatio: 1,
      animation: false,
      events: [],
      layout: { padding: pad },
      scales: {
        x: { type: 'linear', min: 0, max: 3000, bounds: 'data', display: false },
        y: { type: 'logarithmic', min: 0.000515, max: 19.8, bounds: 'data', display: false }
      },
      plugins: {
        legend: { display: false },
        tooltip: { enabled: false },
        frame: Object.assign({ labels: labels }, extra)
      }
    },
    plugins: [framePlugin]
  });
}

makeChart('left', leftPlanets.concat(leftCore, leftCore2), piMenLeft, leftLabels,
  { left: 97, right: 27, top: 2, bottom: 54 }, { yLabelGap: 12, yTitleX: 13, title: false });
makeChart('right', rightPlanets.concat(rightCore, rightCore2), piMenRight, rightLabels,
  { left: 102, right: 21, top: 2, bottom: 54 }, { yLabelGap: 8, yTitleX: 13, title: true });
</script>
</body>
</html>
